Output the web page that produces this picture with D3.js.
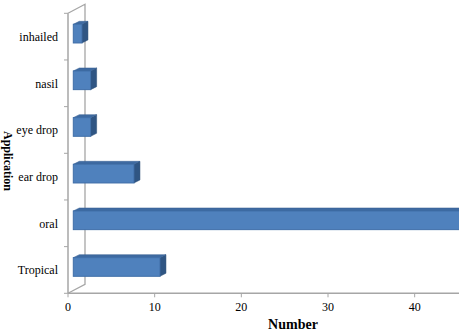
<!DOCTYPE html>
<html>
<head>
<meta charset="utf-8">
<script src="https://cdn.jsdelivr.net/npm/d3@7"></script>
<style>
  body { margin: 0; background: #fff; }
</style>
</head>
<body>
<div id="chart"></div>
<script>
// categories listed top to bottom
const categories = ['inhailed', 'nasil', 'eye drop', 'ear drop', 'oral', 'Tropical'];
const counts = [1, 2, 2, 7, 45, 10];
const xTicks = [0, 10, 20, 30, 40];

(function(){
  const w = 459, h = 332;
  const svg = d3.select('#chart').append('svg').attr('width', w).attr('height', h)
    .attr('font-family', '"Liberation Serif", "DejaVu Serif", serif');

  const x = d3.scaleLinear().domain([0, 45]).range([68, 458]);
  const y = d3.scaleBand().domain(categories).range([13.3, 293.3]).paddingInner(0.6).paddingOuter(0.3);

  // 3d offsets (floor depth and bar position in depth)
  const depth = {dx: 17, dy: -9};
  const barOff = {dx: 5.3, dy: -3};
  const barDepth = {dx: 6, dy: -3};
  const axisCol = '#a6a6a6';

  const yTop = 13.3, yBot = 293.3, x0 = x(0);

  // back wall + floor edges
  svg.append('path')
    .attr('d', `M${x0},${yTop}L${x0+depth.dx},${yTop+depth.dy}L${x0+depth.dx},${yBot+depth.dy}L${x0},${yBot}`)
    .attr('fill', 'none').attr('stroke', axisCol).attr('stroke-width', 1.3);

  // bars
  const g = svg.append('g');
  categories.forEach((c, i) => {
    const v = counts[i];
    const bx0 = x(0) + barOff.dx, bx1 = x(v) + barOff.dx;
    const by0 = y(c) + barOff.dy, by1 = by0 + y.bandwidth();
    const ddx = barDepth.dx, ddy = barDepth.dy;
    // right side
    g.append('path')
      .attr('d', `M${bx1},${by0}L${bx1+ddx},${by0+ddy}L${bx1+ddx},${by1+ddy}L${bx1},${by1}Z`)
      .attr('fill', '#2f5583').attr('stroke', '#2a4c75').attr('stroke-width', 0.5);
    // top
    g.append('path')
      .attr('d', `M${bx0},${by0}L${bx0+ddx},${by0+ddy}L${bx1+ddx},${by0+ddy}L${bx1},${by0}Z`)
      .attr('fill', '#3e6aa1').attr('stroke', '#365f92').attr('stroke-width', 0.5);
    // front
    g.append('rect')
      .attr('x', bx0).attr('y', by0)
      .attr('width', bx1 - bx0).attr('height', by1 - by0)
      .attr('fill', '#4f81bd').attr('stroke', '#3f6ea8').attr('stroke-width', 1);
  });

  // left axis
  svg.append('line').attr('x1', x0).attr('x2', x0).attr('y1', yTop).attr('y2', yBot)
    .attr('stroke', axisCol).attr('stroke-width', 1.5);
  const step = y.step();
  d3.range(categories.length + 1).forEach(i => {
    const ty = yTop + i * step;
    svg.append('line').attr('x1', x0 - 4).attr('x2', x0).attr('y1', ty).attr('y2', ty)
      .attr('stroke', axisCol).attr('stroke-width', 1);
  });
  svg.selectAll('.ylab').data(categories).enter().append('text')
    .attr('class', 'ylab')
    .attr('x', 58).attr('y', d => y(d) + y.bandwidth() / 2)
    .attr('dy', '0.35em').attr('text-anchor', 'end').attr('font-size', '12px')
    .text(d => d);

  // bottom axis
  svg.append('line').attr('x1', x0).attr('x2', w).attr('y1', yBot).attr('y2', yBot)
    .attr('stroke', axisCol).attr('stroke-width', 1.5);
  svg.selectAll('.xt').data(xTicks).enter().append('line')
    .attr('x1', d => x(d)).attr('x2', d => x(d)).attr('y1', yBot).attr('y2', yBot + 4)
    .attr('stroke', axisCol).attr('stroke-width', 1);
  svg.selectAll('.xlab').data(xTicks).enter().append('text')
    .attr('x', d => x(d)).attr('y', 311).attr('text-anchor', 'middle').attr('font-size', '12px')
    .text(d => d);

  // axis titles
  svg.append('text').attr('x', 293).attr('y', 329).attr('text-anchor', 'middle')
    .attr('font-size', '14px').attr('font-weight', 'bold').text('Number');
  svg.append('text').attr('transform', 'translate(4,161) rotate(90)')
    .attr('text-anchor', 'middle').attr('font-size', '12px').attr('font-weight', 'bold')
    .text('Application');
})();
</script>
</body>
</html>
